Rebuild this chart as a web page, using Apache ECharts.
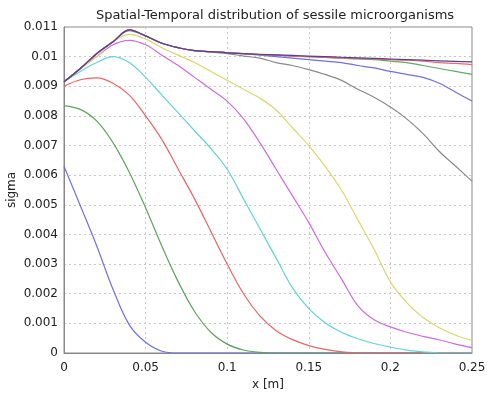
<!DOCTYPE html>
<html>
<head>
<meta charset="utf-8">
<script src="https://cdn.jsdelivr.net/npm/echarts@6/dist/echarts.min.js"></script>
<style>html,body{margin:0;padding:0;background:#fff}#c{width:487px;height:397px}</style>
</head>
<body>
<div id="c"></div>
<script>
const xs = [0,0.01,0.02,0.03,0.04,0.05,0.06,0.07,0.08,0.09,0.10,0.11,0.12,0.13,0.14,0.15,0.16,0.17,0.18,0.19,0.20,0.21,0.22,0.23,0.24,0.25];
const yTicks = [0,0.001,0.002,0.003,0.004,0.005,0.006,0.007,0.008,0.009,0.010,0.011];
const xTicks = [0,0.05,0.1,0.15,0.2,0.25];

const s1 = [0.0063,0.00497,0.00362,0.00215,0.00095,0.00036,0.00006,0,0,0,0,0,0,0,0,0,0,0,0,0,0,0,0,0,0,0];
const s2 = [0.00835,0.00822,0.00783,0.0071,0.0061,0.0049,0.0036,0.0024,0.0014,0.0007,0.0003,0.0001,0.00002,0,0,0,0,0,0,0,0,0,0,0,0,0];
const s3 = [0.0090,0.00922,0.00928,0.0091,0.0087,0.0080,0.0072,0.0062,0.0052,0.0041,0.0030,0.0020,0.00125,0.00075,0.00045,0.00025,0.00012,0.00004,0,0,0,0,0,0,0,0];
const s4 = [0.00915,0.0095,0.0098,0.0100,0.0098,0.0093,0.0087,0.0081,0.0075,0.0069,0.0062,0.0052,0.0042,0.0032,0.0022,0.0015,0.00102,0.0007,0.00048,0.00032,0.0002,0.0001,0.00004,0,0,0];
const s5 = [0.00915,0.0096,0.0100,0.0104,0.01055,0.0104,0.01005,0.0097,0.0093,0.0089,0.0085,0.0079,0.0071,0.0062,0.0053,0.0044,0.0034,0.0025,0.0016,0.00112,0.00088,0.0007,0.00056,0.00044,0.0003,0.00018];
const s6 = [0.00915,0.0096,0.0100,0.0105,0.01075,0.0106,0.0103,0.01005,0.0098,0.0095,0.0092,0.0089,0.0086,0.0082,0.0076,0.0070,0.0063,0.0055,0.0045,0.0035,0.0024,0.0017,0.0012,0.00085,0.0006,0.00042];
const s7 = [0.00915,0.0096,0.0101,0.0105,0.01088,0.0107,0.01045,0.0103,0.0102,0.01015,0.0101,0.01002,0.00995,0.0098,0.0097,0.00956,0.0094,0.0092,0.0089,0.00863,0.0083,0.0079,0.0074,0.0068,0.0063,0.0058];
const s8 = [0.00915,0.0096,0.0101,0.0105,0.0109,0.0107,0.01045,0.0103,0.0102,0.01017,0.01013,0.0101,0.01005,0.0100,0.00995,0.0099,0.00985,0.0098,0.0097,0.00962,0.0095,0.0094,0.0093,0.0091,0.0088,0.0085];
const s9 = [0.00915,0.0096,0.0101,0.0105,0.0109,0.0107,0.01045,0.0103,0.0102,0.01017,0.01013,0.0101,0.01007,0.01005,0.01002,0.0100,0.00997,0.00995,0.00992,0.0099,0.00985,0.0098,0.0097,0.0096,0.0095,0.0094];
const s10 = [0.00915,0.0096,0.0101,0.0105,0.0109,0.0107,0.01045,0.0103,0.0102,0.01017,0.01013,0.0101,0.01007,0.01005,0.01002,0.0100,0.00998,0.00996,0.00994,0.00992,0.0099,0.00988,0.00985,0.0098,0.00977,0.00973];
const s11 = [0.00915,0.0096,0.0101,0.0105,0.0109,0.0107,0.01045,0.0103,0.0102,0.01017,0.01013,0.0101,0.01008,0.01006,0.01004,0.01002,0.0100,0.00998,0.00996,0.00994,0.00992,0.0099,0.00988,0.00986,0.00984,0.00982];

const seriesVals = [s1,s2,s3,s4,s5,s6,s7,s8,s9,s10,s11];
const colors = ['#7070e8','#5fa35f','#ea6464','#63d2d8','#cc6ce0','#d8d872','#8a8a8a','#6f6fe6','#62a862','#e86a6a','#5a3d96'];

const fmt = v => String(parseFloat(v.toFixed(4)));
const chart = echarts.init(document.getElementById('c'), null, {renderer:'canvas'});
const fam = 'DejaVu Sans';
chart.setOption({
  animation:false,
  backgroundColor:'#fff',
  title:{text:'Spatial-Temporal distribution of sessile microorganisms', left:270, top:4, textAlign:'center',
    textStyle:{fontFamily:fam,fontSize:13,fontWeight:'normal',color:'#222'}},
  grid:{left:64,right:15,top:27,bottom:44,show:true,borderColor:'#888',borderWidth:1,containLabel:false,outerBoundsMode:'none'},
  xAxis:{type:'value',min:0,max:0.25,interval:0.05,name:'x [m]',nameLocation:'middle',nameGap:25,
    nameTextStyle:{fontFamily:fam,fontSize:12,color:'#222'},
    axisLine:{show:true,lineStyle:{color:'#888'}},axisTick:{show:false},
    axisLabel:{fontFamily:fam,fontSize:12,color:'#222',margin:9,formatter:fmt},
    splitLine:{show:true,lineStyle:{color:'#c8c8c8',type:[2,3],width:1}}},
  yAxis:{type:'value',min:0,max:0.011,interval:0.001,name:'sigma',nameLocation:'middle',nameGap:46,nameMoveOverlap:false,
    nameTextStyle:{fontFamily:fam,fontSize:12,color:'#222'},
    axisLine:{show:true,lineStyle:{color:'#888'}},axisTick:{show:false},
    axisLabel:{fontFamily:fam,fontSize:12,color:'#222',margin:6,formatter:fmt},
    splitLine:{show:true,lineStyle:{color:'#c8c8c8',type:[2,3],width:1}}},
  series: seriesVals.map((vals,i)=>({
    type:'line', showSymbol:false, smooth:0.35, clip:true,
    data: xs.map((x,j)=>[x, vals[j]]),
    lineStyle:{color:colors[i], width:1.2}, itemStyle:{color:colors[i]}
  }))
});
</script>
</body>
</html>
